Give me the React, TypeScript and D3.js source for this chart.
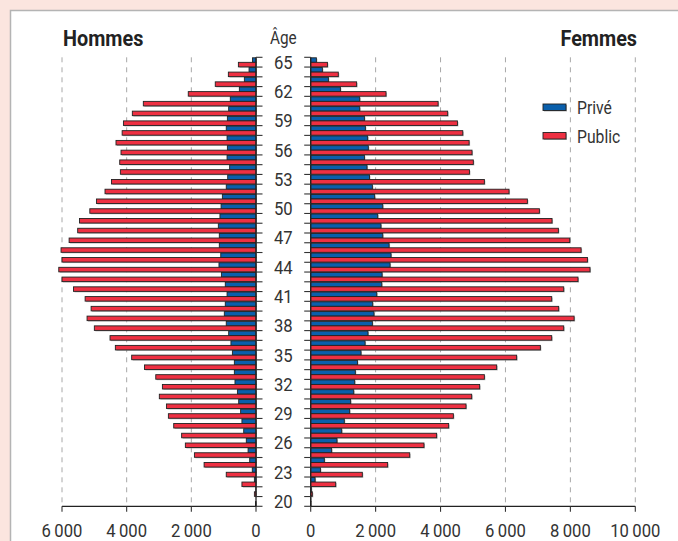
import React from "react";
import * as d3 from "d3";

const ages = [65,64,63,62,61,60,59,58,57,56,55,54,53,52,51,50,49,48,47,46,45,44,43,42,41,40,39,38,37,36,35,34,33,32,31,30,29,28,27,26,25,24,23,22,21,20];

const hommesPrive = [110,215,360,515,795,845,885,920,895,885,895,815,875,920,1040,1080,1115,1165,1135,1135,1090,1145,1070,950,895,950,980,920,845,775,730,670,670,650,575,535,475,435,380,300,245,195,115,50,5,0];
const hommesPublic = [545,855,1260,2095,3485,3825,4100,4140,4330,4175,4215,4195,4470,4670,4935,5140,5460,5515,5780,6030,6000,6100,6000,5645,5285,5100,5225,5000,4515,4350,3845,3450,3100,2895,2990,2770,2710,2545,2300,2185,1905,1605,920,435,50,15];
const femmesPrive = [175,360,545,915,1510,1510,1655,1685,1755,1775,1655,1735,1810,1900,1970,2220,2065,2165,2220,2415,2475,2445,2200,2190,2035,1910,1950,1900,1765,1675,1550,1440,1375,1355,1325,1230,1200,1035,955,810,645,420,300,135,20,5];
const femmesPublic = [515,850,1415,2320,3925,4220,4520,4685,4880,4970,5010,4890,5350,6110,6675,7045,7435,7630,7980,8330,8525,8605,8235,7795,7425,7640,8115,7795,7425,7075,6345,5730,5350,5205,4960,4785,4395,4250,3880,3490,3050,2370,1590,770,50,10];

const series = ["Privé", "Public"];
const leftTicks = [0, 2000, 4000, 6000];
const rightTicks = [0, 2000, 4000, 6000, 8000, 10000];
const ageLabels = [65, 62, 59, 56, 53, 50, 47, 44, 41, 38, 35, 32, 29, 26, 23, 20];

const W = 678, H = 541;
const COLORS: Record<string, string> = { "Privé": "#0a5fab", "Public": "#ee3042" };
const FONT = "Roboto, 'Liberation Sans', sans-serif";

const fmt = (v: number) => d3.format(",")(v).replace(/,/g, "\u2009");

type TProps = {
  x: number; y: number; size: number; sx?: number; anchor?: "start" | "middle" | "end";
  weight?: string; fill?: string; children: React.ReactNode;
};
function T({ x, y, size, sx = 0.85, anchor = "start", weight = "normal", fill = "#333", children }: TProps) {
  return (
    <text transform={`translate(${x},${y}) scale(${sx},1)`} fontSize={size} fontWeight={weight}
      textAnchor={anchor} fill={fill} fontFamily={FONT}>{children}</text>
  );
}

export default function App() {
  const xL = d3.scaleLinear().domain([0, 6000]).range([256, 62]);
  const xR = d3.scaleLinear().domain([0, 10000]).range([310.7, 635.3]);
  const y = d3.scaleBand<number>().domain(ages).range([57.3, 506.3]).padding(0);
  const bw = y.bandwidth();
  const ys = d3.scaleBand<string>().domain(series).range([0.5, bw - 0.2]).padding(0);
  const sh = ys.bandwidth();
  const yTop = 57.3, yBot = 506.3;
  const boundaries = ages.map((a) => y(a)!).concat([yBot]);
  const midX = (xL(0) + xR(0)) / 2;

  const bar = (key: string, x0: number, x1: number, yy: number, color: string) => {
    const x = Math.min(x0, x1);
    const w = Math.abs(x1 - x0);
    if (w < 0.05) return null;
    return (
      <g key={key}>
        <rect x={x + 1} y={yy + 1} width={w} height={sh} fill="#9a9a9a" opacity={0.7} />
        <rect x={x} y={yy} width={w} height={sh} fill={color} stroke="#222" strokeWidth={0.9} />
      </g>
    );
  };

  return (
    <div style={{ position: "fixed", left: 0, top: 0 }}>
      <svg width={W} height={H} style={{ display: "block", fontFamily: FONT }}>
        <rect x={0} y={0} width={W} height={H} fill="#fbe5df" />
        <rect x={10.5} y={10.5} width={W + 20} height={H + 20} fill="#ffffff" stroke="#b4b4b4" strokeWidth={1.5} />

        {/* gridlines */}
        {leftTicks.filter((t) => t > 0).map((t) => (
          <line key={"gl" + t} x1={xL(t)} x2={xL(t)} y1={yTop} y2={yBot} stroke="#a8a8a8" strokeWidth={1} strokeDasharray="5,5" />
        ))}
        {rightTicks.filter((t) => t > 0).map((t) => (
          <line key={"gr" + t} x1={xR(t)} x2={xR(t)} y1={yTop} y2={yBot} stroke="#a8a8a8" strokeWidth={1} strokeDasharray="5,5" />
        ))}

        {/* bars */}
        {ages.map((a, i) => (
          <g key={"a" + a}>
            {bar("hp" + a, xL(0), xL(hommesPrive[i]), y(a)! + ys("Privé")!, COLORS["Privé"])}
            {bar("hu" + a, xL(0), xL(hommesPublic[i]), y(a)! + ys("Public")!, COLORS["Public"])}
            {bar("fp" + a, xR(0), xR(femmesPrive[i]), y(a)! + ys("Privé")!, COLORS["Privé"])}
            {bar("fu" + a, xR(0), xR(femmesPublic[i]), y(a)! + ys("Public")!, COLORS["Public"])}
          </g>
        ))}

        {/* vertical axes */}
        <line x1={xL(0)} x2={xL(0)} y1={yTop} y2={yBot} stroke="#222" strokeWidth={1.3} />
        <line x1={xR(0)} x2={xR(0)} y1={yTop} y2={yBot} stroke="#222" strokeWidth={1.3} />
        {boundaries.map((b, i) => (
          <g key={"bt" + i}>
            <line x1={xL(0)} x2={xL(0) + 6.5} y1={b} y2={b} stroke="#333" strokeWidth={1.1} />
            <line x1={xR(0) - 6.5} x2={xR(0)} y1={b} y2={b} stroke="#333" strokeWidth={1.1} />
          </g>
        ))}
        {ageLabels.map((a) => (
          <T key={"al" + a} x={midX} y={y(a)! + bw / 2 + 6.5} size={18.5} sx={0.9} anchor="middle">{a}</T>
        ))}

        {/* bottom axes */}
        <line x1={xL(6000)} x2={xL(0)} y1={yBot} y2={yBot} stroke="#222" strokeWidth={1.3} />
        <line x1={xR(0)} x2={xR(10000)} y1={yBot} y2={yBot} stroke="#222" strokeWidth={1.3} />
        {leftTicks.map((t) => (
          <g key={"lt" + t}>
            <line x1={xL(t)} x2={xL(t)} y1={yBot} y2={yBot + 5.5} stroke="#333" strokeWidth={1.1} />
            <T x={xL(t)} y={537} size={18.5} sx={0.9} anchor="middle">{fmt(t)}</T>
          </g>
        ))}
        {rightTicks.map((t) => (
          <g key={"rt" + t}>
            <line x1={xR(t)} x2={xR(t)} y1={yBot} y2={yBot + 5.5} stroke="#333" strokeWidth={1.1} />
            <T x={xR(t)} y={537} size={18.5} sx={0.9} anchor="middle">{fmt(t)}</T>
          </g>
        ))}

        {/* titles */}
        <T x={63} y={45.5} size={22.5} sx={0.88} weight="bold" fill="#222">Hommes</T>
        <T x={637} y={45.5} size={22.5} sx={0.88} weight="bold" fill="#222" anchor="end">Femmes</T>
        <T x={midX} y={44} size={18} anchor="middle">Âge</T>

        {/* legend */}
        {series.map((s, i) => (
          <g key={"lg" + s} transform={`translate(543, ${104 + i * 28.5})`}>
            <rect x={1} y={1} width={23} height={6.5} fill="#9a9a9a" opacity={0.7} />
            <rect x={0} y={0} width={23} height={6.5} fill={COLORS[s]} stroke="#222" strokeWidth={0.9} />
            <T x={34} y={10} size={18.5}>{s}</T>
          </g>
        ))}
      </svg>
    </div>
  );
}
